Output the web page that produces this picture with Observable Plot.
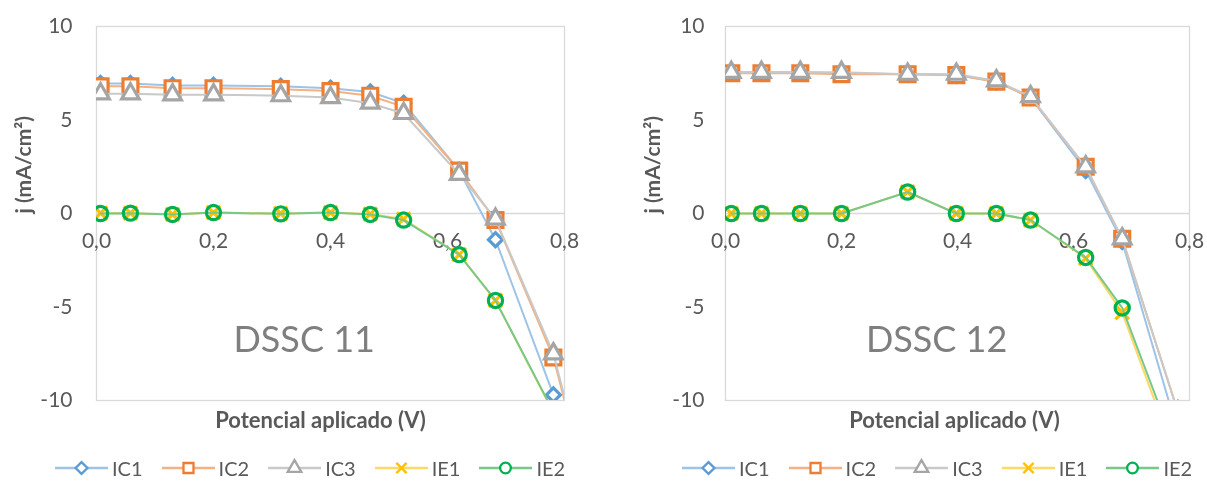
<!DOCTYPE html>
<html><head><meta charset="utf-8">
<script src="https://cdn.jsdelivr.net/npm/d3@7"></script>
<script src="https://cdn.jsdelivr.net/npm/@observablehq/plot@0.6"></script>
<style>
body{margin:0;background:#fff;font-family:Lato,"Open Sans",sans-serif;}
#wrap{position:relative;width:1207px;height:481px;overflow:hidden;}
.chart{position:absolute;top:0;}
.legend{position:absolute;top:456px;display:flex;align-items:center;font-size:20px;color:#595959;font-family:Lato,sans-serif;}
.legend span{margin-left:4px;margin-right:19px;}
</style></head><body>
<div id="wrap"></div>
<script>
// ---- data ----
const seriesNames = ["IC1", "IC2", "IC3", "IE1", "IE2"];
const xTicks = [0, 0.2, 0.4, 0.6, 0.8];
const yTicks = [10, 5, 0, -5, -10];

// DSSC 11
const v11   = [0.007, 0.058, 0.13, 0.20, 0.315, 0.40, 0.468, 0.525, 0.62, 0.682, 0.781, 0.83];
const ic1_11 = [6.95, 6.95, 6.85, 6.85, 6.8, 6.7, 6.5, 5.9, 2.3, -1.4, -9.7, -14.0];
const ic2_11 = [6.8, 6.8, 6.7, 6.7, 6.65, 6.55, 6.3, 5.7, 2.3, -0.35, -7.7, -13.6];
const ic3_11 = [6.4, 6.4, 6.35, 6.35, 6.3, 6.2, 5.9, 5.35, 2.1, -0.3, -7.5, -13.4];
const ie1_11 = [0.02, 0.02, -0.05, 0.05, 0.0, 0.05, -0.03, -0.3, -2.2, -4.65, -10.65, -13.6];
const ie2_11 = [0.0, 0.02, -0.05, 0.05, -0.02, 0.05, -0.05, -0.35, -2.2, -4.65, -10.6, -13.6];

// DSSC 12
const v12   = [0.010, 0.062, 0.129, 0.20, 0.314, 0.398, 0.467, 0.526, 0.621, 0.684, 0.78];
const ic1_12 = [7.55, 7.55, 7.55, 7.5, 7.45, 7.4, 7.05, 6.2, 2.3, -1.5, -11.7];
const ic2_12 = [7.5, 7.5, 7.5, 7.45, 7.45, 7.4, 7.05, 6.2, 2.5, -1.35, -10.6];
const ic3_12 = [7.55, 7.55, 7.55, 7.55, 7.45, 7.45, 7.1, 6.25, 2.5, -1.35, -10.6];
const ie1_12 = [0.0, 0.0, 0.0, 0.0, 1.15, 0.0, 0.0, -0.35, -2.4, -5.3, -13.4];
const ie2_12 = [0.0, 0.0, 0.0, 0.0, 1.15, 0.0, 0.0, -0.35, -2.35, -5.05, -12.9];

// ---- styles ----
const markerColors = ["#5B9BD5", "#ED7D31", "#A5A5A5", "#FFC000", "#00B050"];
const lineColors = ["#9DC3E6", "#F4B183", "#C9C9C9", "#FFD966", "#78C88A"];
const diamond = {draw(ctx, size) { const r = Math.sqrt(size / 2); ctx.moveTo(0, -r); ctx.lineTo(r, 0); ctx.lineTo(0, r); ctx.lineTo(-r, 0); ctx.closePath(); }};
const symbols = [diamond, d3.symbolSquare, d3.symbolTriangle, d3.symbolTimes, d3.symbolCircle];
const radii = [5.6, 8.4, 6.5, 6.2, 7.1];
const fills = ["white", "white", "white", "none", "none"];
const gray = "#595959";

function makeChart(volts, series, label, o) {
  const marks = [
    Plot.frame({stroke: "#d9d9d9", strokeWidth: 1.3}),
    Plot.ruleY([0], {stroke: "#d9d9d9", strokeWidth: 1.3}),
    Plot.axisY(yTicks, {tickSize: 0, tickPadding: o.tickPad, fontSize: 21, color: gray, label: null, tickFormat: d => String(d)}),
    Plot.text(xTicks, {x: d => d, y: 0, dy: 28, text: d => d.toFixed(1).replace(".", ","), fontSize: 21, fill: gray}),
    Plot.text(["j (mA/cm²)"], {frameAnchor: "left", dx: -72, rotate: -90, fontWeight: "bold", fontSize: 21, fill: gray}),
    Plot.text(["Potencial aplicado (V)"], {frameAnchor: "bottom", dy: 27, dx: o.titleDx, fontWeight: "bold", fontSize: 22, fill: gray}),
    Plot.text([label], {x: o.lx, y: -6.8, fontSize: 36, fill: "#7f7f7f"})
  ];
  series.forEach((vals, i) => {
    const rows = vals.map((j, k) => ({v: volts[k], j}));
    marks.push(Plot.line(rows, {x: "v", y: "j", stroke: lineColors[i], strokeWidth: 2, clip: true, mixBlendMode: "multiply"}));
    marks.push(Plot.dot(rows, {x: "v", y: "j", symbol: symbols[i], r: radii[i], stroke: markerColors[i], fill: fills[i], strokeWidth: 3.2, clip: true}));
  });
  return Plot.plot({
    width: o.width, height: 445,
    marginLeft: o.ml, marginRight: o.mr, marginTop: 26, marginBottom: 45,
    x: {domain: [0, 0.8], axis: null},
    y: {domain: [-10, 10], axis: null},
    style: {fontFamily: "Lato, 'Open Sans', sans-serif", background: "white"},
    marks
  });
}

function makeLegend(left) {
  const div = document.createElement("div");
  div.className = "legend";
  div.style.left = left + "px";
  seriesNames.forEach((name, i) => {
    const svg = d3.create("svg").attr("width", 53).attr("height", 22);
    svg.append("line").attr("x1", 0).attr("x2", 53).attr("y1", 11).attr("y2", 11).attr("stroke", lineColors[i]).attr("stroke-width", 2.5);
    const sz = [70, 100, 80, 70, 90][i];
    svg.append("path").attr("d", d3.symbol(symbols[i], sz)()).attr("transform", "translate(26.5,11)")
      .attr("fill", i === 3 ? "none" : "white").attr("stroke", markerColors[i]).attr("stroke-width", 2.3);
    div.appendChild(svg.node());
    const s = document.createElement("span");
    s.textContent = name;
    div.appendChild(s);
  });
  return div;
}

const wrap = document.getElementById("wrap");
const c1 = makeChart(v11, [ic1_11, ic2_11, ic3_11, ie1_11, ie2_11], "DSSC 11", {width: 603, ml: 96, mr: 39, tickPad: 24, titleDx: -10, lx: 0.355});
c1.classList.add("chart"); c1.style.left = "0px";
const c2 = makeChart(v12, [ic1_12, ic2_12, ic3_12, ie1_12, ie2_12], "DSSC 12", {width: 604, ml: 122, mr: 18, tickPad: 21, titleDx: -3, lx: 0.364});
c2.classList.add("chart"); c2.style.left = "603px";
wrap.appendChild(c1);
wrap.appendChild(c2);
wrap.appendChild(makeLegend(55));
wrap.appendChild(makeLegend(682));
</script>
</body></html>
